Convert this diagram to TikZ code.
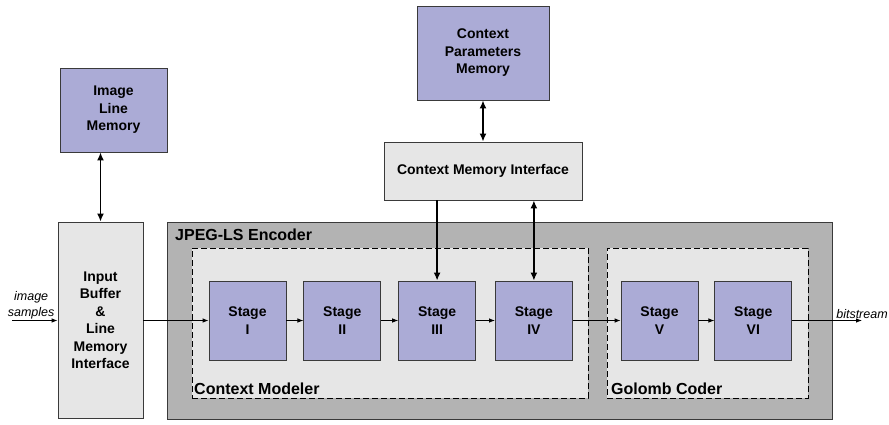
\documentclass[tikz,border=0pt]{standalone}
\usepackage{fontspec}
\setmainfont{Liberation Sans}
\usetikzlibrary{positioning,arrows.meta}

\definecolor{memfill}{HTML}{ABABD6}
\definecolor{lightfill}{HTML}{E6E6E6}
\definecolor{encfill}{HTML}{B3B3B3}
\definecolor{edge}{HTML}{3A3A3A}

\begin{document}
\begin{tikzpicture}[x=1pt, y=-1pt,
	box/.style={draw=edge, line width=0.8pt, align=center, inner sep=0pt,
		font=\bfseries\fontsize{14}{17.5}\selectfont},
	membox/.style={box, fill=memfill},
	ifbox/.style={box, fill=lightfill},
	stagebox/.style={membox, minimum width=77pt, minimum height=79pt},
	groupbox/.style={draw=black, line width=0.8pt, dash pattern=on 6pt off 3pt,
		fill=lightfill, minimum height=150pt, inner sep=0pt},
	grouplabel/.style={font=\bfseries\fontsize{16}{19}\selectfont, inner sep=0pt},
	flow/.style={line width=0.8pt, -{Latex[length=6pt, width=4.5pt]}},
	link/.style={line width=1.8pt, {Latex[length=8pt, width=7pt]}-{Latex[length=8pt, width=7pt]}},
	feed/.style={line width=1.8pt, -{Latex[length=8pt, width=7pt]}},
	ext/.style={font=\itshape\fontsize{12.5}{16}\selectfont, align=center, inner sep=1pt}
]
\useasboundingbox (0,0) rectangle (889,424);

% encoder with its two groups
\node [draw=edge, line width=0.8pt, fill=encfill, minimum width=665pt, minimum height=197pt]
	(enc) at (499.5, 320.5) {};
\node [grouplabel, anchor=north west] at (175, 229) {JPEG-LS Encoder};

\node [groupbox, minimum width=396pt] (cm) at (390, 323) {};
\node [grouplabel, anchor=south west] at (194, 395) {Context Modeler};

\node [groupbox, minimum width=201pt] (gc) at (707.5, 323) {};
\node [grouplabel, anchor=south west] at (611, 395) {Golomb Coder};

% stages
\node [stagebox] (s1) at (247.5, 320.5) {Stage\\I};
\node [stagebox, right=17pt of s1] (s2) {Stage\\II};
\node [stagebox, right=17pt of s2] (s3) {Stage\\III};
\node [stagebox, right=19pt of s3] (s4) {Stage\\IV};
\node [stagebox] (s5) at (659.5, 320.5) {Stage\\V};
\node [stagebox, right=16pt of s5] (s6) {Stage\\VI};

% memories and interfaces
\node [membox, minimum width=107pt, minimum height=84pt] (ilm) at (113.5, 110) {Image\\Line\\Memory};
\node [ifbox, minimum width=85pt, minimum height=196pt] (ibuf) at (100.5, 320) {Input\\Buffer\\\&\\Line\\Memory\\Interface};
\node [membox, minimum width=132pt, minimum height=94pt] (cpm) at (483, 53) {Context\\Parameters\\Memory};
\node [ifbox, minimum width=198pt, minimum height=58pt] (cmi) at (483, 171) {Context Memory Interface};

\coordinate (in) at (12, 320.5);
\coordinate (out) at (862, 320.5);

% data path
\draw [flow] (in) -- (ibuf.west |- in)
	node [ext, pos=0.42, above] {image\\samples};
\draw [flow] (ibuf.east |- s1.west) -- (s1.west);
\draw [flow] (s1) -- (s2);
\draw [flow] (s2) -- (s3);
\draw [flow] (s3) -- (s4);
\draw [flow] (s4) -- (s5);
\draw [flow] (s5) -- (s6);
\draw [flow] (s6) -- (out)
	node [ext, pos=1, above] {bitstream};

% memory accesses
\draw [link] (ibuf.north) -- (ibuf.north |- ilm.south);
\draw [link] (cpm) -- (cmi);
\draw [feed] (s3.north |- cmi.south) -- (s3.north);
\draw [link] (s4.north |- cmi.south) -- (s4.north);
\end{tikzpicture}
\end{document}
